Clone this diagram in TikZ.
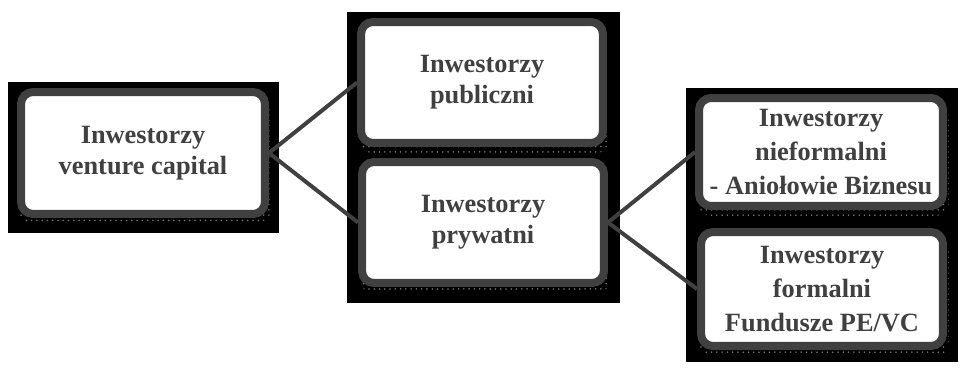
\documentclass[tikz,border=0pt]{standalone}
\usepackage{fontspec}
\setmainfont{Liberation Serif}
\usepackage{tikz}
\usetikzlibrary{shadows, patterns, positioning}
\definecolor{mygray}{RGB}{64,64,64}
\definecolor{mydots}{RGB}{120,120,120}
\tikzset{
  invbox/.style={rectangle, draw=mygray, fill=white, line width=0.16cm,
    rounded corners=0.24cm, align=center, inner sep=0pt, text=mygray,
    font=\fontsize{15}{17.5}\selectfont\bfseries,
    drop shadow={shadow xshift=0.04cm, shadow yshift=-0.16cm, shadow scale=1.03,
      pattern=dots, pattern color=mydots, opacity=1}},
  tallbox/.style={invbox, font=\fontsize{15}{19.5}\selectfont\bfseries},
  backdrop/.style={fill=black},
  link/.style={line width=0.08cm, color=mygray}
}
\begin{document}
\begin{tikzpicture}[x=0.02cm, y=-0.02cm]
  \useasboundingbox (0,0) rectangle (967,368);

  % Black backdrops
  \fill[backdrop] (8,82) rectangle (279,233);
  \fill[backdrop] (347,12) rectangle (620,303);
  \fill[backdrop] (686,88) rectangle (958,362);

  % Boxes
  \node[invbox, minimum width=4.88cm, minimum height=2.44cm] (vc) at (143,153) {Inwestorzy\\venture capital};
  \node[invbox, minimum width=4.84cm, minimum height=2.42cm] (pub) at (482,82.5) {Inwestorzy\\publiczni};
  \node[invbox, minimum width=4.84cm, minimum height=2.42cm] (prv) at (483,222.5) {Inwestorzy\\prywatni};
  \node[tallbox, minimum width=4.88cm, minimum height=2.16cm] (nief) at (821,152) {Inwestorzy\\nieformalni\\- Aniołowie Biznesu};
  \node[tallbox, minimum width=4.84cm, minimum height=2.28cm] (form) at (822,289) {Inwestorzy\\formalni\\Fundusze PE/VC};

  % Connections
  \draw[link] (vc.east) -- (pub.west);
  \draw[link] (vc.east) -- (prv.west);
  \draw[link] (prv.east) -- (nief.west);
  \draw[link] (prv.east) -- (form.west);
\end{tikzpicture}
\end{document}
